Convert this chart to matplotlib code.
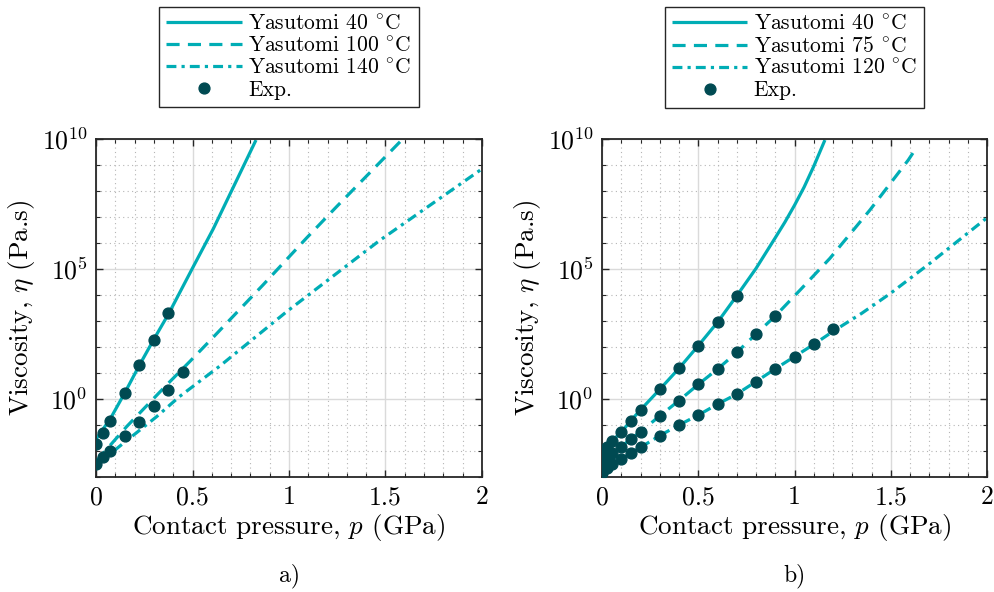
import numpy as np
import matplotlib
matplotlib.use("Agg")
import matplotlib.pyplot as plt
from matplotlib.ticker import FixedLocator, FuncFormatter

plt.rcParams['font.family'] = 'serif'
plt.rcParams['font.serif'] = ['cmr10', 'DejaVu Serif']
plt.rcParams['mathtext.fontset'] = 'cm'
plt.rcParams['axes.formatter.use_mathtext'] = True
plt.rcParams['axes.unicode_minus'] = False

# ---------------- Panel a) data (log10 of viscosity, Pa.s) ----------------
a_labels = ['Yasutomi 40 $^{\\circ}$C', 'Yasutomi 100 $^{\\circ}$C', 'Yasutomi 140 $^{\\circ}$C']
a_p40 = [0, 0.075, 0.15, 0.225, 0.3, 0.378, 0.504, 0.608, 0.829]
a_log40 = [-1.55, -0.75, 0.25, 1.3, 2.3, 3.3, 5.09, 6.55, 9.96]
a_p100 = [0, 0.159, 0.366, 0.487, 0.608, 0.867, 1.092, 1.247, 1.584]
a_log100 = [-2.4, -1.06, 0.54, 1.45, 2.38, 4.4, 6.2, 7.4, 9.96]
a_p140 = [0, 0.142, 0.314, 0.432, 0.642, 0.988, 1.47, 2.0]
a_log140 = [-2.55, -1.7, -0.68, 0.09, 1.27, 3.36, 6.1, 8.85]
a_exp_p1 = [0, 0.0375, 0.075, 0.15, 0.225, 0.3, 0.375]
a_exp_log1 = [-1.74, -1.29, -0.83, 0.22, 1.32, 2.27, 3.29]
a_exp_p2 = [0, 0.0375, 0.075, 0.15, 0.225, 0.3, 0.375, 0.45]
a_exp_log2 = [-2.5, -2.22, -1.99, -1.42, -0.87, -0.27, 0.35, 1.05]

# ---------------- Panel b) data ----------------
b_labels = ['Yasutomi 40 $^{\\circ}$C', 'Yasutomi 75 $^{\\circ}$C', 'Yasutomi 120 $^{\\circ}$C']
b_p40 = [0, 0.05, 0.1, 0.15, 0.2, 0.3, 0.4, 0.5, 0.6, 0.7, 0.8, 0.9, 0.95, 1.0, 1.05, 1.1, 1.158]
b_log40 = [-2.06, -1.62, -1.28, -0.83, -0.42, 0.37, 1.18, 2.05, 2.95, 3.97, 5.02, 6.2, 6.8, 7.45, 8.15, 8.95, 9.96]
b_p75 = [0, 0.05, 0.1, 0.15, 0.2, 0.3, 0.4, 0.5, 0.6, 0.7, 0.8, 0.9, 1.029, 1.184, 1.392, 1.591, 1.625]
b_log75 = [-2.47, -2.09, -1.83, -1.54, -1.26, -0.65, -0.06, 0.56, 1.15, 1.79, 2.5, 3.19, 4.19, 5.41, 7.27, 9.19, 9.57]
b_p120 = [0, 0.05, 0.1, 0.15, 0.2, 0.3, 0.4, 0.5, 0.6, 0.7, 0.8, 0.9, 1.0, 1.1, 1.2, 1.35, 1.5, 1.7, 2.0]
b_log120 = [-2.83, -2.51, -2.32, -2.06, -1.86, -1.41, -1.0, -0.62, -0.2, 0.19, 0.67, 1.16, 1.63, 2.1, 2.6, 3.3, 4.07, 5.2, 6.97]
b_exp_p40 = [0, 0.025, 0.05, 0.1, 0.15, 0.2, 0.3, 0.4, 0.5, 0.6, 0.7]
b_exp_log40 = [-2.06, -1.85, -1.62, -1.28, -0.83, -0.42, 0.37, 1.18, 2.05, 2.95, 3.97]
b_exp_p75 = [0, 0.025, 0.05, 0.1, 0.15, 0.2, 0.3, 0.4, 0.5, 0.6, 0.7, 0.8, 0.9]
b_exp_log75 = [-2.47, -2.25, -2.09, -1.83, -1.54, -1.26, -0.65, -0.06, 0.56, 1.15, 1.79, 2.5, 3.19]
b_exp_p120 = [0, 0.025, 0.05, 0.1, 0.15, 0.2, 0.3, 0.4, 0.5, 0.6, 0.7, 0.8, 0.9, 1.0, 1.1, 1.2]
b_exp_log120 = [-2.83, -2.66, -2.51, -2.32, -2.06, -1.86, -1.41, -1.0, -0.62, -0.2, 0.19, 0.67, 1.16, 1.63, 2.1, 2.68]

x_ticks = [0, 0.5, 1, 1.5, 2]
x_ticklabels = ['0', '0.5', '1', '1.5', '2']
y_major = [1e0, 1e5, 1e10]
panel_tags = ['a)', 'b)']

LINE_C = '#00adb5'
MARK_C = '#004a52'
LW = 2.3
STYLES = [dict(linestyle='-'),
          dict(linestyle=(0, (4.1, 2.6))),
          dict(linestyle=(0, (3.1, 1.6, 1.0, 1.6)))]

fig = plt.figure(figsize=(9.94, 5.92), dpi=100)
W, H = 994, 592
ax_px = [(96, 139, 482, 477), (602, 139, 987, 477)]

panels = [
    (a_labels, [(a_p40, a_log40), (a_p100, a_log100), (a_p140, a_log140)],
     [(a_exp_p1, a_exp_log1), (a_exp_p2, a_exp_log2)]),
    (b_labels, [(b_p40, b_log40), (b_p75, b_log75), (b_p120, b_log120)],
     [(b_exp_p40, b_exp_log40), (b_exp_p75, b_exp_log75), (b_exp_p120, b_exp_log120)]),
]

for i, (labels, curves, exps) in enumerate(panels):
    x0, y0, x1, y1 = ax_px[i]
    ax = fig.add_axes([x0 / W, 1 - y1 / H, (x1 - x0) / W, (y1 - y0) / H])
    handles = []
    for (p, lg), st, lab in zip(curves, STYLES, labels):
        h, = ax.plot(p, 10.0 ** np.array(lg), color=LINE_C, lw=LW, label=lab,
                     solid_capstyle='butt', dash_capstyle='butt', **st)
        handles.append(h)
    for j, (p, lg) in enumerate(exps):
        h, = ax.plot(p, 10.0 ** np.array(lg), 'o', color=MARK_C, ms=7.8,
                     mec=MARK_C, label='Exp.' if j == 0 else None, zorder=5)
        if j == 0:
            handles.append(h)
    ax.set_yscale('log')
    ax.set_xlim(0, 2)
    ax.set_ylim(1e-3, 1e10)
    ax.set_xticks(x_ticks)
    ax.set_xticklabels(x_ticklabels)
    ax.xaxis.set_minor_locator(FixedLocator(np.arange(0.1, 2.0, 0.1)))
    ax.yaxis.set_major_locator(FixedLocator(y_major))
    ax.yaxis.set_minor_locator(FixedLocator([10.0 ** k for k in range(-3, 11) if k % 5 != 0]))
    ax.yaxis.set_major_formatter(FuncFormatter(lambda v, pos: '$10^{%d}$' % round(np.log10(v))))
    ax.yaxis.set_minor_formatter(FuncFormatter(lambda v, pos: ''))
    ax.grid(True, which='major', color='#dadada', lw=1.0, ls='-')
    ax.grid(True, which='minor', color='#b5b5b5', lw=0.8, ls=(0, (1, 3)))
    ax.set_axisbelow(True)
    ax.tick_params(which='both', direction='in', top=True, right=True, color='#262626')
    ax.tick_params(which='major', length=5, width=1.0, labelsize=18.5, pad=6)
    ax.tick_params(which='minor', length=3, width=0.8)
    for s in ax.spines.values():
        s.set_color('#262626')
        s.set_linewidth(1.3)
    ax.set_xlabel('Contact pressure, $p$ (GPa)', fontsize=19.5, labelpad=2)
    ax.set_ylabel('Viscosity, $\\eta$ (Pa.s)', fontsize=19.5, labelpad=3)
    cx = (x0 + x1) / 2 / W
    leg = ax.legend(handles=handles, loc='upper center', bbox_to_anchor=(cx, 1 - 7 / H),
                    bbox_transform=fig.transFigure, fontsize=15.5, frameon=True,
                    fancybox=False, edgecolor='#262626', framealpha=1,
                    handlelength=3.5, handletextpad=0.3, labelspacing=0.12,
                    borderpad=0.33, borderaxespad=0)
    leg.get_frame().set_linewidth(1.0)
    fig.text(cx, 1 - 576 / H, panel_tags[i], ha='center', va='center', fontsize=17)

fig.savefig('out.png', dpi=100)
